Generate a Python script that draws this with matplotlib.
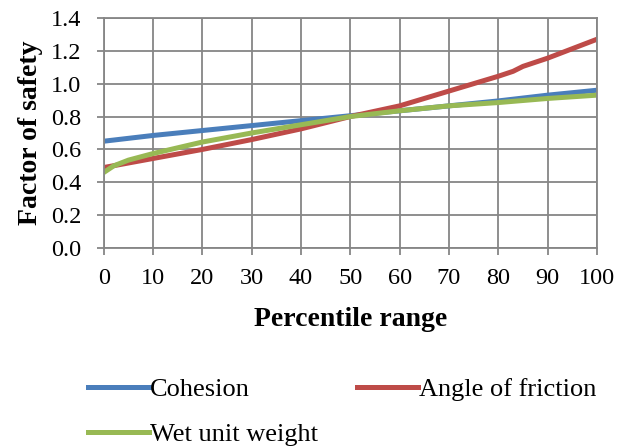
import matplotlib
matplotlib.use("Agg")
import matplotlib.pyplot as plt

percentile = [0, 10, 20, 30, 40, 50, 60, 70, 80, 90, 100]
cohesion = [0.65, 0.685, 0.715, 0.745, 0.775, 0.805, 0.835, 0.865, 0.895, 0.93, 0.96]
friction_x = [0, 10, 20, 30, 40, 50, 60, 70, 80, 83, 85, 90, 100]
friction = [0.49, 0.545, 0.60, 0.66, 0.725, 0.80, 0.865, 0.955, 1.045, 1.075, 1.105, 1.155, 1.27]
weight_x = [0, 2, 5, 10, 20, 30, 40, 50, 60, 70, 80, 90, 100]
weight = [0.46, 0.50, 0.535, 0.575, 0.645, 0.70, 0.75, 0.80, 0.835, 0.865, 0.885, 0.91, 0.93]

plt.rcParams['font.family'] = ['Liberation Serif', 'DejaVu Serif']

fig = plt.figure(figsize=(6.33, 4.47), dpi=100)
ax = fig.add_axes([0.164, 0.445, 0.779, 0.515])

l1, = ax.plot(percentile, cohesion, color='#4A7EBB', lw=3.6, label='Cohesion')
l2, = ax.plot(friction_x, friction, color='#BE4B48', lw=3.6, label='Angle of friction')
l3, = ax.plot(weight_x, weight, color='#98B954', lw=3.6, label='Wet unit weight')

ax.set_xlim(0, 100)
ax.set_ylim(0, 1.4)
ax.set_xticks(range(0, 101, 10))
ax.set_yticks([i * 0.2 for i in range(8)])
ax.set_yticklabels([f"{i*0.2:.1f}" for i in range(8)])
ax.grid(True, color='#868686', lw=1.3)
ax.set_axisbelow(True)
for s in ax.spines.values():
    s.set_color('#868686')
    s.set_linewidth(1.3)
ax.tick_params(axis='both', colors='#868686', labelcolor='black', labelsize=17.5, length=5, width=1.3)
ax.tick_params(axis='x', pad=9)
ax.tick_params(axis='y', pad=11)
ax.set_xlabel('Percentile range', fontsize=20, fontweight='bold', labelpad=13)
ax.set_ylabel('Factor of safety', fontsize=20, fontweight='bold', labelpad=6)

fig.legend([l1, l3, l2], ['Cohesion', 'Wet unit weight', 'Angle of friction'],
           loc='upper left', bbox_to_anchor=(88 / 633, 0.155), ncol=2, frameon=False,
           fontsize=19, handlelength=2.3, handletextpad=0.05, columnspacing=1.48,
           labelspacing=0.8, borderpad=0, borderaxespad=0)

fig.savefig('out.png', dpi=100)
